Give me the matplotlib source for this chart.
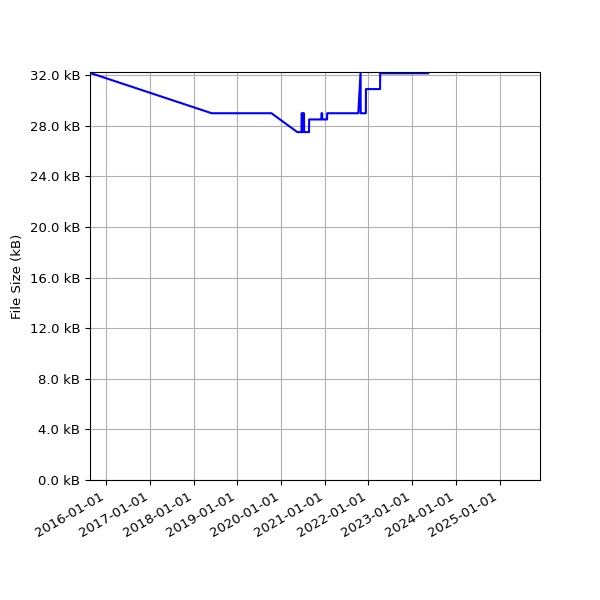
import matplotlib
matplotlib.use('Agg')
import matplotlib.pyplot as plt
import matplotlib.dates as mdates
import matplotlib.ticker as mticker
import pandas as pd

dates = ['2015-08-18', '2018-05-31', '2019-10-13', '2020-05-16', '2020-06-20',
         '2020-06-21', '2020-06-27', '2020-06-28', '2020-07-04', '2020-07-05',
         '2020-07-11', '2020-07-12', '2020-08-22', '2020-08-23', '2020-12-03',
         '2020-12-04', '2020-12-10', '2020-12-11', '2021-01-20', '2021-01-21',
         '2021-10-08', '2021-10-27', '2021-10-28', '2021-12-10', '2021-12-11',
         '2022-04-08', '2022-04-09', '2023-05-15']
sizes = [32180, 28990, 28990, 27500, 27500,
         28990, 28990, 27500, 27500, 28990,
         28990, 27500, 27500, 28500, 28500,
         28990, 28990, 28500, 28500, 28990,
         28990, 32250, 28990, 28990, 30900,
         30900, 32150, 32150]
x_end = '2025-12-05'
y_top = 32250

plt.rcParams['font.size'] = 9.5

t = pd.to_datetime(dates)

fig, ax = plt.subplots(figsize=(6, 6), dpi=100)
ax.plot(t, sizes, color='blue')
ax.set_xlim(t[0], pd.Timestamp(x_end))
ax.set_ylim(0, y_top)
ax.yaxis.set_major_locator(mticker.MultipleLocator(4000))
ax.yaxis.set_major_formatter(mticker.FuncFormatter(lambda v, p: f'{v/1000:.1f} kB'))
ax.xaxis.set_major_locator(mdates.YearLocator())
ax.xaxis.set_major_formatter(mdates.DateFormatter('%Y-%m-%d'))
ax.set_ylabel('File Size (kB)')
ax.grid(True)
fig.autofmt_xdate()
fig.subplots_adjust(left=0.15, right=0.9, top=0.88, bottom=0.2)
fig.savefig('out.png')
